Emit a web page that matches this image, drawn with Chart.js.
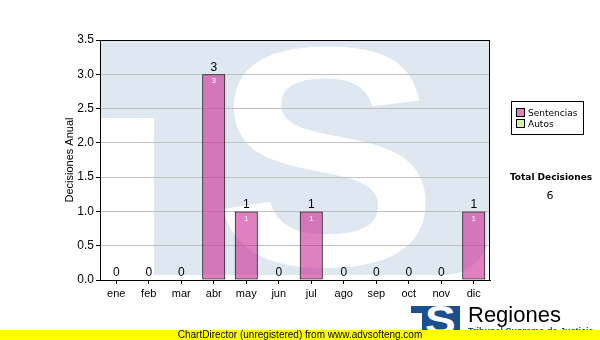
<!DOCTYPE html>
<html><head><meta charset="utf-8">
<script src="https://cdn.jsdelivr.net/npm/chart.js@4/dist/chart.umd.min.js"></script>
<style>
html,body{margin:0;padding:0;background:#fff;}
#wrap{position:relative;width:600px;height:340px;overflow:hidden;font-family:"Liberation Sans",Arial,sans-serif;}
#c{position:absolute;left:0;top:0;}
#legend{position:absolute;left:511px;top:101px;width:73px;height:34px;border:1px solid #000;box-sizing:border-box;font:9px "DejaVu Sans",sans-serif;color:#000;}
.item{position:absolute;left:4px;height:12px;line-height:12px;white-space:nowrap;}
.sw{display:inline-block;width:7px;height:7px;border:1px solid #000;margin-right:3px;vertical-align:-1px;}
#totT{position:absolute;left:501px;width:100px;top:172px;text-align:center;font:bold 9px "DejaVu Sans",sans-serif;color:#000;}
#totV{position:absolute;left:500px;width:100px;top:189px;text-align:center;font:11px "DejaVu Sans",sans-serif;color:#000;}
#logo{position:absolute;left:411px;top:306px;width:49px;height:28px;background:#1b4f8f;overflow:hidden;}
#logoW{position:absolute;left:0;top:7px;width:11px;height:30px;background:#fff;}
#logoS{position:absolute;left:14px;top:-8px;font:bold 40px "Liberation Sans",Arial,sans-serif;color:#fff;transform:scaleX(1.15);transform-origin:0 0;}
#reg{position:absolute;left:468px;top:302px;font:22px "Liberation Sans",Arial,sans-serif;color:#000;}
#sub{position:absolute;left:468px;top:326px;font:bold 9px "Liberation Sans",Arial,sans-serif;color:#1b4f8f;white-space:nowrap;}
#footer{position:absolute;left:0;top:330px;width:600px;height:10px;background:#ffff00;font:10px "Liberation Sans",Arial,sans-serif;line-height:10px;text-align:center;color:#000;}
</style></head>
<body><div id="wrap">
<canvas id="c" width="600" height="340"></canvas>
<div id="legend"></div>
<div id="totT"></div>
<div id="totV"></div>
<div id="logo"><div id="logoW"></div><div id="logoS">S</div></div>
<div id="reg">Regiones</div>
<div id="sub">Tribunal Supremo de Justicia</div>
<div id="footer">ChartDirector (unregistered) from www.advsofteng.com</div>
</div>
<script>
const months = ['ene','feb','mar','abr','may','jun','jul','ago','sep','oct','nov','dic'];
const sentencias = [0,0,0,3,1,0,1,0,0,0,0,1];
const autos = [0,0,0,0,0,0,0,0,0,0,0,0];
const seriesNames = ['Sentencias','Autos'];
const yAxisTitle = 'Decisiones Anual';
const totalTitle = 'Total Decisiones';

const pinkFill = 'rgba(204,44,150,0.6)';
const pinkSwatch = '#e080c0';
const greenSwatch = '#d8f0a0';

const lg = document.getElementById('legend');
[[seriesNames[0], pinkSwatch],[seriesNames[1], greenSwatch]].forEach((it,i)=>{
  const d = document.createElement('div');
  d.className='item'; d.style.top=(5+i*11)+'px';
  d.innerHTML='<span class="sw" style="background:'+it[1]+'"></span>'+it[0];
  lg.appendChild(d);
});
const total = sentencias.reduce((a,b)=>a+b,0) + autos.reduce((a,b)=>a+b,0);
document.getElementById('totT').textContent = totalTitle;
document.getElementById('totV').textContent = String(total);

const FONT = '"Liberation Sans", Arial, sans-serif';

const watermark = {
  id:'watermark',
  beforeDraw(chart){
    const {ctx, chartArea:a} = chart;
    ctx.save();
    ctx.beginPath(); ctx.rect(a.left, a.top, a.right-a.left, a.bottom-a.top); ctx.clip();
    ctx.fillStyle = '#dfe8f1';
    ctx.beginPath();
    ctx.roundRect(a.left+1, a.top+1, a.right-a.left-1, 275-a.top-1, [0,0,45,0]);
    ctx.fill();
    ctx.fillStyle = '#ffffff';
    ctx.fillRect(a.left, 118, 154-a.left, a.bottom-118+1);
    ctx.translate(326, 265);
    ctx.scale(1.08, 1);
    ctx.font = 'bold 313px ' + FONT;
    ctx.textAlign = 'center';
    ctx.textBaseline = 'alphabetic';
    ctx.fillText('S', 0, 0);
    ctx.restore();
  }
};

const labels = {
  id:'labels',
  afterDatasetsDraw(chart){
    const {ctx} = chart;
    const meta = chart.getDatasetMeta(0);
    ctx.save();
    ctx.textAlign = 'center';
    meta.data.forEach((bar,i)=>{
      const v = sentencias[i];
      const t = sentencias[i] + autos[i];
      const topY = chart.scales.y.getPixelForValue(t);
      ctx.fillStyle = '#000';
      ctx.font = '12px ' + FONT;
      ctx.textBaseline = 'bottom';
      ctx.fillText(String(t), bar.x, topY - 1);
      if (v > 0) {
        ctx.fillStyle = '#fff';
        ctx.font = '8px ' + FONT;
        ctx.textBaseline = 'top';
        ctx.fillText(String(v), bar.x, bar.y + 3);
      }
    });
    ctx.restore();
  },
  afterDraw(chart){
    const {ctx, chartArea:a} = chart;
    ctx.save();
    ctx.strokeStyle = '#000'; ctx.lineWidth = 1;
    ctx.strokeRect(a.left+0.5, a.top+0.5, a.right-a.left-1, a.bottom-a.top);
    ctx.restore();
  }
};

new Chart(document.getElementById('c'), {
  type:'bar',
  data:{
    labels: months,
    datasets:[
      {label:seriesNames[0], data:sentencias, backgroundColor:pinkFill, borderColor:'#000', borderWidth:1, borderSkipped:false},
      {label:seriesNames[1], data:autos, backgroundColor:greenSwatch, borderColor:'#000', borderWidth:0}
    ]
  },
  options:{
    responsive:false, animation:false, devicePixelRatio:1,
    layout:{padding:{left:63, right:110, top:40, bottom:0}},
    plugins:{legend:{display:false}, tooltip:{enabled:false}},
    datasets:{bar:{categoryPercentage:1, barPercentage:0.71}},
    scales:{
      x:{
        stacked:true,
        grid:{drawOnChartArea:false, offset:false, tickLength:4, tickColor:'#000'},
        border:{color:'#000'},
        ticks:{color:'#000', font:{family:FONT, size:11}, padding:3, maxRotation:0, autoSkip:false},
        afterFit(s){ s.height = 60; }
      },
      y:{
        stacked:true, min:0, max:3.5,
        grid:{color:'#c0c0c0', tickColor:'#000', tickLength:4},
        border:{color:'#000'},
        ticks:{stepSize:0.5, color:'#000', font:{family:FONT, size:12}, padding:2, callback:v=>Number(v).toFixed(1)},
        title:{display:true, text:yAxisTitle, color:'#000', font:{family:FONT, size:11}, padding:{top:0,bottom:0}},
        afterFit(s){ s.width = 37; }
      }
    }
  },
  plugins:[watermark, labels]
});
</script>
</body></html>
